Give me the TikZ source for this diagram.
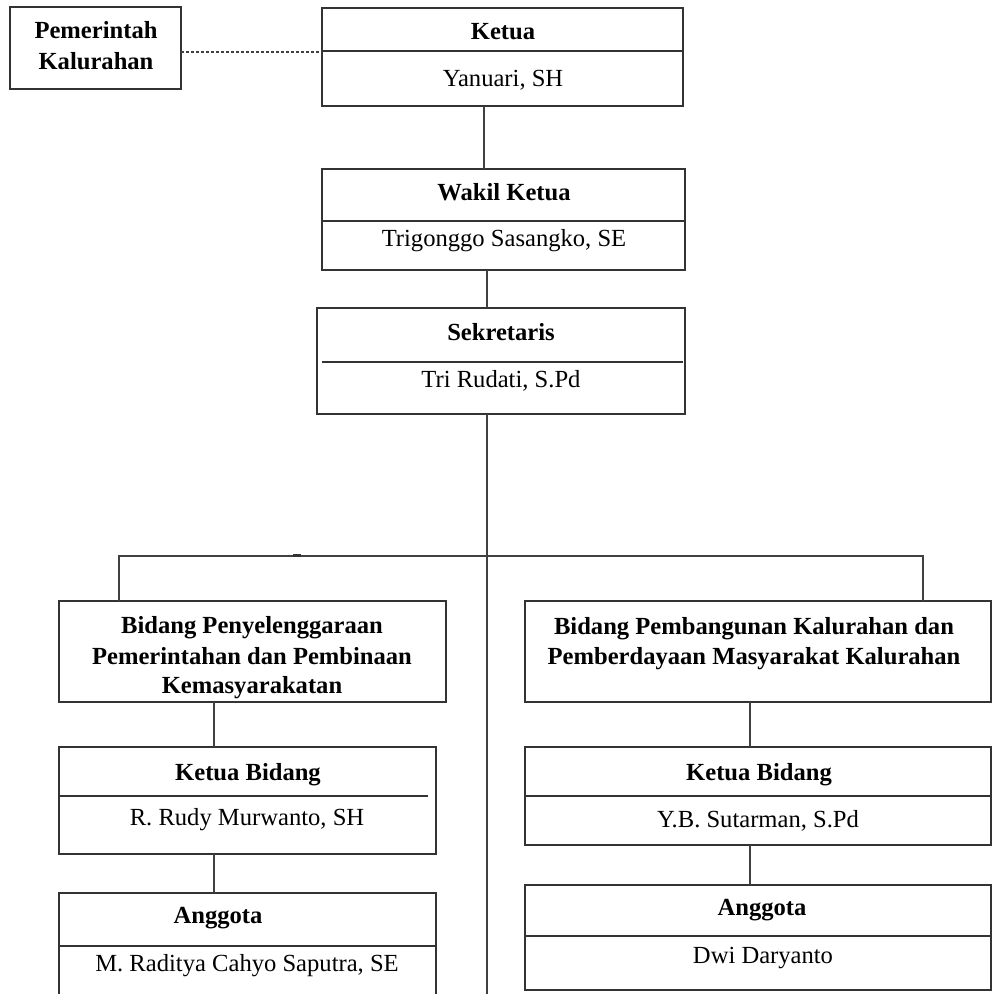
\documentclass[tikz,border=0pt]{standalone}
\usepackage{fontspec}
\setmainfont{Liberation Serif}
\begin{document}
\begin{tikzpicture}[x=0.5pt,y=-0.5pt,
  box/.style={draw=black!80, line width=0.8pt, inner sep=0pt, outer sep=0pt},
  conn/.style={draw=black!75, line width=0.8pt},
  divline/.style={draw=black!80, line width=0.8pt},
  hd/.style={font=\fontsize{12.3}{14.5}\selectfont\bfseries, anchor=base, inner sep=0pt},
  nm/.style={font=\fontsize{12.3}{14.5}\selectfont, anchor=base, inner sep=0pt}]
\useasboundingbox (0,0) rectangle (992,994);
\clip (0,0) rectangle (992,994);
\fill[white] (0,0) rectangle (992,994);

% boxes
\node[box, minimum width=85.5pt, minimum height=41pt] (pem) at (95.5,48) {};
\node[box, minimum width=180.5pt, minimum height=49pt] (ketua) at (502.5,57) {};
\node[box, minimum width=181.5pt, minimum height=50.5pt] (wakil) at (503.5,219.5) {};
\node[box, minimum width=184pt, minimum height=53pt] (sekr) at (501,361) {};
\node[box, minimum width=193.5pt, minimum height=50.5pt] (bidL) at (252.5,651.5) {};
\node[box, minimum width=233pt, minimum height=50.5pt] (bidR) at (758,651.5) {};
\node[box, minimum width=188.5pt, minimum height=53.5pt] (kbL) at (247.5,800.5) {};
\node[box, minimum width=188.5pt, minimum height=58.5pt] (angL) at (247.5,951.5) {};
\node[box, minimum width=233pt, minimum height=49pt] (kbR) at (758,796) {};
\node[box, minimum width=233pt, minimum height=52.5pt] (angR) at (758,937.5) {};

% dividers
\draw[divline] (ketua.west |- 0,51) -- (ketua.east |- 0,51);
\draw[divline] (wakil.west |- 0,221) -- (wakil.east |- 0,221);
\draw[divline] (322,362) -- (683,362);
\draw[divline] (kbL.west |- 0,796) -- (428,796);
\draw[divline] (angL.west |- 0,946) -- (angL.east |- 0,946);
\draw[divline] (kbR.west |- 0,796) -- (kbR.east |- 0,796);
\draw[divline] (angR.west |- 0,936) -- (angR.east |- 0,936);

% helper coordinates
\coordinate (t1) at (484,0);
\coordinate (trunk) at (487,0);
\coordinate (bottom) at (487,994);
\coordinate (hL) at (119,556);
\coordinate (hR) at (923,556);
\coordinate (cL) at (214,0);
\coordinate (cR) at (750,0);

% connectors
\draw[conn, dash pattern=on 1.5pt off 1pt] (pem.east |- 0,52) -- (ketua.west |- 0,52);
\draw[conn] (ketua.south -| t1) -- (wakil.north -| t1);
\draw[conn] (wakil.south -| trunk) -- (sekr.north -| trunk);
\draw[conn] (sekr.south -| trunk) -- (bottom);
\draw[conn] (bidL.north -| hL) -- (hL) -- (hR) -- (bidR.north -| hR);
\draw[line width=1.3pt, black!80] (293,555.5) -- (301,555.5);
\draw[conn] (bidL.south -| cL) -- (kbL.north -| cL);
\draw[conn] (kbL.south -| cL) -- (angL.north -| cL);
\draw[conn] (bidR.south -| cR) -- (kbR.north -| cR);
\draw[conn] (kbR.south -| cR) -- (angR.north -| cR);

% texts
\node[hd] (pemA) at (96,39) {Pemerintah};
\node[hd] (pemB) at (96,70) {Kalurahan};
\node[hd] (ketuaT) at (503,40) {Ketua};
\node[nm] (ketuaN) at (503,87) {Yanuari, SH};
\node[hd] (wakilT) at (504,201) {Wakil Ketua};
\node[nm] (wakilN) at (504,247) {Trigonggo Sasangko, SE};
\node[hd] (sekrT) at (501,340) {Sekretaris};
\node[nm] (sekrN) at (501,387) {Tri Rudati, S.Pd};
\node[hd] (bidLa) at (252,633) {Bidang Penyelenggaraan};
\node[hd] (bidLb) at (252,664) {Pemerintahan dan Pembinaan};
\node[hd] (bidLc) at (252,693) {Kemasyarakatan};
\node[hd] (bidRa) at (754,634) {Bidang Pembangunan Kalurahan dan};
\node[hd] (bidRb) at (754,664) {Pemberdayaan Masyarakat Kalurahan};
\node[hd] (kbLT) at (248,780) {Ketua Bidang};
\node[nm] (kbLN) at (247,825) {R. Rudy Murwanto, SH};
\node[hd] (angLT) at (218,923) {Anggota};
\node[nm] (angLN) at (247,971) {M. Raditya Cahyo Saputra, SE};
\node[hd] (kbRT) at (759,780) {Ketua Bidang};
\node[nm] (kbRN) at (758,827) {Y.B. Sutarman, S.Pd};
\node[hd] (angRT) at (762,915) {Anggota};
\node[nm] (angRN) at (763,963) {Dwi Daryanto};
\end{tikzpicture}
\end{document}
